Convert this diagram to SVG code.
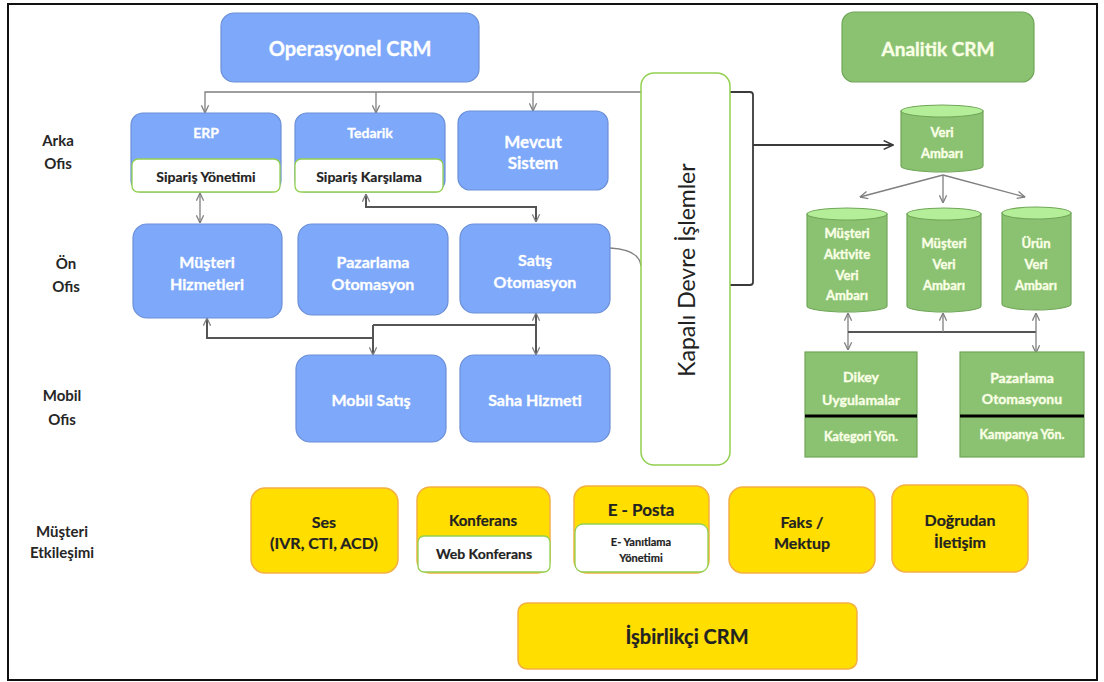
<svg xmlns="http://www.w3.org/2000/svg" width="1104" height="682" viewBox="0 0 1104 682">
<style>
text{font-family:Lato,"Liberation Sans",sans-serif;font-weight:bold;text-anchor:middle;dominant-baseline:central}
.blue{fill:#7EA8FA;stroke:#6B8FD6;stroke-width:1.2}
.green{fill:#8BC272;stroke:#70A658;stroke-width:1.2}
.gtop{fill:#B4EE98;stroke:#70A658;stroke-width:1.2}
.yellow{fill:#FFDE00;stroke:#F3B044;stroke-width:1.5}
.inner{fill:#fff;stroke:#92D050;stroke-width:1.3}
.wt{fill:#fff;stroke:#fff;stroke-width:0.3}
.dk{fill:#222;stroke:#222;stroke-width:0.2}
.gt{fill:#FAFFE6;stroke:#FAFFE6;stroke-width:0.35}
.lbl{fill:#262626;font-size:15px}
.c{fill:none;stroke:#7F7F7F;stroke-width:1.3}
.c2{fill:none;stroke:#555;stroke-width:2}
.c3{fill:none;stroke:#3A3A3A;stroke-width:1.8}
</style>
<defs>
<marker id="a" viewBox="0 0 10 10" refX="9.5" refY="5" markerWidth="9" markerHeight="9" markerUnits="userSpaceOnUse" orient="auto-start-reverse">
<path d="M1,1 L9.5,5 L1,9" fill="none" stroke="#7F7F7F" stroke-width="1.4"/>
</marker>
<marker id="ad" viewBox="0 0 10 10" refX="9.5" refY="5" markerWidth="11" markerHeight="11" markerUnits="userSpaceOnUse" orient="auto-start-reverse">
<path d="M1,1 L9.5,5 L1,9" fill="none" stroke="#3A3A3A" stroke-width="1.4"/>
</marker>
</defs>
<rect x="8" y="4" width="1089" height="676" fill="#fff" stroke="#111" stroke-width="2"/>

<g id="labels">
<text class="lbl" x="58" y="140">Arka</text><text class="lbl" x="58" y="163">Ofis</text>
<text class="lbl" x="66" y="263">Ön</text><text class="lbl" x="66" y="286">Ofis</text>
<text class="lbl" x="62" y="395">Mobil</text><text class="lbl" x="62" y="419">Ofis</text>
<text class="lbl" x="62" y="531">Müşteri</text><text class="lbl" x="62" y="552">Etkileşimi</text>
</g>

<g id="connectors">
<path class="c" d="M205,113 L205,92 L641,92" marker-start="url(#a)"/>
<path class="c" d="M376,92 L376,113" marker-end="url(#a)"/>
<path class="c" d="M533,92 L533,111" marker-end="url(#a)"/>
<path class="c" d="M200,193 L200,223" marker-start="url(#a)" marker-end="url(#a)"/>
<path class="c2" d="M366,194 L366,207 L536,207 L536,222" marker-start="url(#a)" marker-end="url(#a)"/>
<path class="c2" d="M207,318 L207,338 L373,338"  marker-start="url(#a)"/>
<path class="c2" d="M373,325 L373,355" marker-end="url(#a)"/>
<path class="c2" d="M373,325 L536,325"/>
<path class="c2" d="M536,313 L536,355" marker-start="url(#a)" marker-end="url(#a)"/>
<path class="c" d="M610,248 C630,249 640,255 641,266"/>
<path class="c3" d="M730,92 L750,92 Q753,92 753,95 L753,282 Q753,285 750,285 L730,285"/>
<path class="c3" d="M753,145 L893,145" marker-end="url(#ad)"/>
<path class="c" d="M943,175 L860,197" marker-end="url(#a)"/>
<path class="c" d="M943,175 L943,203" marker-end="url(#a)"/>
<path class="c" d="M943,175 L1025,197" marker-end="url(#a)"/>
<path class="c" d="M848,313 L848,350" marker-start="url(#a)" marker-end="url(#a)"/>
<path class="c2" d="M848,332 L1036,332"/>
<path class="c" d="M943,332 L943,313" marker-end="url(#a)"/>
<path class="c" d="M1036,313 L1036,353" marker-start="url(#a)" marker-end="url(#a)"/>
</g>

<g id="operasyonel-crm"><rect class="blue" x="221" y="13" width="258" height="69" rx="13"/><text class="wt" x="350" y="48" font-size="20">Operasyonel CRM</text></g>
<g id="analitik-crm"><rect class="green" x="842" y="12" width="192" height="70" rx="12"/><text class="gt" x="938" y="48" font-size="19">Analitik CRM</text></g>

<g id="erp"><rect class="blue" x="131" y="113" width="150" height="79" rx="12"/><text class="wt" x="206" y="132" font-size="14">ERP</text>
<rect class="inner" x="132" y="159" width="148" height="33" rx="6"/><text class="dk" x="206" y="176" font-size="14">Sipariş Yönetimi</text></g>
<g id="tedarik"><rect class="blue" x="295" y="113" width="150" height="79" rx="12"/><text class="wt" x="370" y="132" font-size="14">Tedarik</text>
<rect class="inner" x="295" y="159" width="148" height="33" rx="6"/><text class="dk" x="369" y="176" font-size="14">Sipariş Karşılama</text></g>
<g id="mevcut-sistem"><rect class="blue" x="458" y="111" width="150" height="79" rx="12"/><text class="wt" x="533" y="141" font-size="17">Mevcut</text><text class="wt" x="533" y="162" font-size="17">Sistem</text></g>

<g id="musteri-hizmetleri"><rect class="blue" x="133" y="224" width="149" height="94" rx="14"/><text class="wt" x="207" y="261" font-size="16">Müşteri</text><text class="wt" x="207" y="283" font-size="16">Hizmetleri</text></g>
<g id="pazarlama-otomasyon"><rect class="blue" x="298" y="224" width="150" height="91" rx="14"/><text class="wt" x="373" y="261" font-size="16">Pazarlama</text><text class="wt" x="373" y="283" font-size="16">Otomasyon</text></g>
<g id="satis-otomasyon"><rect class="blue" x="460" y="224" width="150" height="89" rx="14"/><text class="wt" x="535" y="259" font-size="16">Satış</text><text class="wt" x="535" y="281" font-size="16">Otomasyon</text></g>

<g id="mobil-satis"><rect class="blue" x="296" y="355" width="150" height="87" rx="14"/><text class="wt" x="371" y="399" font-size="16">Mobil Satış</text></g>
<g id="saha-hizmeti"><rect class="blue" x="460" y="355" width="150" height="87" rx="14"/><text class="wt" x="535" y="399" font-size="16">Saha Hizmeti</text></g>

<g id="kapali-devre"><rect x="641" y="73" width="89" height="392" rx="13" fill="#fff" stroke="#92D050" stroke-width="1.5"/>
<text x="0" y="0" transform="translate(686,270) rotate(-90)" font-size="23" style="font-weight:normal" fill="#222">Kapalı Devre İşlemler</text></g>

<g id="veri-ambari"><path class="green" d="M901,111 L901,166 A41,6 0 0 0 983,166 L983,111 Z"/><ellipse class="gtop" cx="942" cy="111" rx="41" ry="6"/>
<text class="gt" x="942" y="132" font-size="13">Veri</text><text class="gt" x="942" y="153" font-size="13">Ambarı</text></g>

<g id="musteri-aktivite-veri-ambari"><path class="green" d="M807,214 L807,306 A40,6 0 0 0 887,306 L887,214 Z"/><ellipse class="gtop" cx="847" cy="214" rx="40" ry="6"/>
<text class="gt" x="847" y="233" font-size="13">Müşteri</text><text class="gt" x="847" y="254" font-size="13">Aktivite</text><text class="gt" x="847" y="275" font-size="13">Veri</text><text class="gt" x="847" y="295" font-size="13">Ambarı</text></g>
<g id="musteri-veri-ambari"><path class="green" d="M907,214 L907,306 A37,6 0 0 0 981,306 L981,214 Z"/><ellipse class="gtop" cx="944" cy="214" rx="37" ry="6"/>
<text class="gt" x="944" y="243" font-size="13">Müşteri</text><text class="gt" x="944" y="264" font-size="13">Veri</text><text class="gt" x="944" y="285" font-size="13">Ambarı</text></g>
<g id="urun-veri-ambari"><path class="green" d="M1002,213 L1002,304 A34.5,6 0 0 0 1071,304 L1071,213 Z"/><ellipse class="gtop" cx="1036.5" cy="213" rx="34.5" ry="6"/>
<text class="gt" x="1036" y="243" font-size="13">Ürün</text><text class="gt" x="1036" y="264" font-size="13">Veri</text><text class="gt" x="1036" y="285" font-size="13">Ambarı</text></g>

<g id="dikey-uygulamalar"><rect class="green" x="805" y="352" width="112" height="105"/><line x1="805" y1="416" x2="917" y2="416" stroke="#000" stroke-width="3"/>
<text class="gt" x="861" y="376" font-size="14">Dikey</text><text class="gt" x="861" y="399" font-size="14">Uygulamalar</text><text class="gt" x="861" y="436" font-size="12.5">Kategori Yön.</text></g>
<g id="pazarlama-otomasyonu"><rect class="green" x="960" y="352" width="124" height="105"/><line x1="960" y1="416" x2="1084" y2="416" stroke="#000" stroke-width="3"/>
<text class="gt" x="1022" y="377" font-size="14">Pazarlama</text><text class="gt" x="1022" y="398" font-size="14">Otomasyonu</text><text class="gt" x="1022" y="434" font-size="12.5">Kampanya Yön.</text></g>

<g id="ses"><rect class="yellow" x="251" y="488" width="147" height="85" rx="14"/><text class="dk" x="324" y="521" font-size="16">Ses</text><text class="dk" x="324" y="542" font-size="16">(IVR, CTI, ACD)</text></g>
<g id="konferans"><rect class="yellow" x="417" y="487" width="133" height="86" rx="13"/><text class="dk" x="483" y="520" font-size="15">Konferans</text>
<rect class="inner" x="418" y="536" width="132" height="36" rx="6"/><text class="dk" x="484" y="553" font-size="14">Web Konferans</text></g>
<g id="e-posta"><rect class="yellow" x="574" y="486" width="135" height="87" rx="13"/><text class="dk" x="641" y="509" font-size="17">E - Posta</text>
<rect class="inner" x="575" y="524" width="133" height="48" rx="8"/><text class="dk" x="641" y="541" font-size="11">E- Yanıtlama</text><text class="dk" x="641" y="557" font-size="11">Yönetimi</text></g>
<g id="faks-mektup"><rect class="yellow" x="729" y="487" width="146" height="86" rx="14"/><text class="dk" x="802" y="521" font-size="16">Faks /</text><text class="dk" x="802" y="542" font-size="16">Mektup</text></g>
<g id="dogrudan-iletisim"><rect class="yellow" x="892" y="485" width="136" height="87" rx="14"/><text class="dk" x="960" y="519" font-size="16">Doğrudan</text><text class="dk" x="960" y="541" font-size="16">İletişim</text></g>
<g id="isbirlikci-crm"><rect class="yellow" x="518" y="603" width="339" height="66" rx="9"/><text class="dk" x="687" y="636" font-size="20">İşbirlikçi CRM</text></g>
</svg>
